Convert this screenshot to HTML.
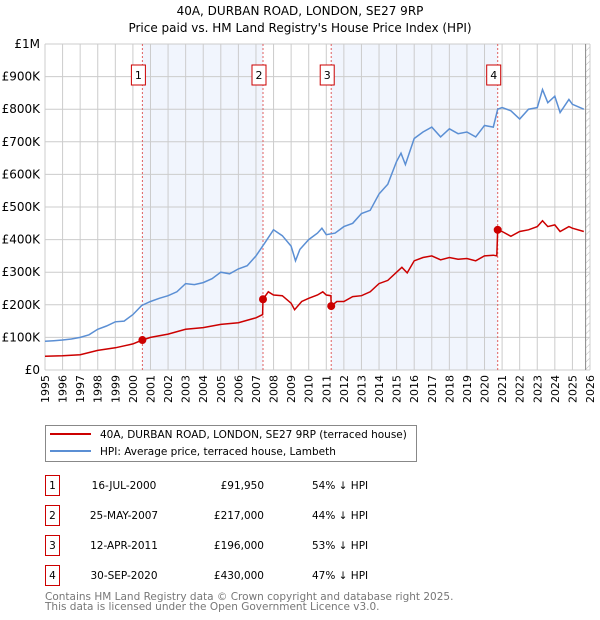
<!DOCTYPE html>
<html><head><meta charset="utf-8"><style>
body{margin:0;background:#fff;}
svg{display:block;font-family:"DejaVu Sans","Liberation Sans",sans-serif;}
</style></head><body>
<svg id="c" width="600" height="620"></svg>
<script>
const hpiYears=[1995,1995.5,1996,1996.5,1997,1997.5,1998,1998.5,1999,1999.5,2000,2000.5,2001,2001.5,2002,2002.5,2003,2003.5,2004,2004.5,2005,2005.5,2006,2006.5,2007,2007.5,2008,2008.5,2009,2009.25,2009.5,2010,2010.5,2010.75,2011,2011.5,2012,2012.5,2013,2013.5,2014,2014.5,2015,2015.25,2015.5,2016,2016.5,2017,2017.5,2018,2018.5,2019,2019.5,2020,2020.5,2020.75,2021,2021.5,2022,2022.5,2023,2023.3,2023.6,2024,2024.3,2024.8,2025,2025.65];
const hpiValues=[88,90,92,95,100,108,125,135,148,150,170,198,210,220,228,240,265,262,268,280,300,295,310,320,350,390,430,412,380,335,370,400,420,435,415,420,440,450,480,490,540,570,640,665,630,710,730,745,715,740,725,730,715,750,745,800,805,795,770,800,805,860,820,840,790,830,815,800];
const priceYears=[1995,1996,1997,1998,1999,2000,2000.54,2001,2002,2003,2004,2005,2006,2007,2007.38,2007.4,2007.7,2008,2008.5,2009,2009.2,2009.6,2010,2010.5,2010.8,2011,2011.26,2011.28,2011.6,2012,2012.5,2013,2013.5,2014,2014.5,2015,2015.3,2015.6,2016,2016.5,2017,2017.5,2018,2018.5,2019,2019.5,2020,2020.5,2020.7,2020.75,2021,2021.5,2022,2022.5,2023,2023.3,2023.6,2024,2024.3,2024.8,2025,2025.65];
const priceValues=[42,44,47,60,68,80,91.95,100,110,125,130,140,145,160,170,217,240,230,228,205,185,210,220,230,240,230,228,196,210,210,225,228,240,265,275,300,315,298,335,345,350,338,345,340,342,335,350,352,350,430,425,410,425,430,440,458,440,445,425,440,435,425];
const saleLabels=["1","2","3","4"];
const saleYears=[2000.54,2007.4,2011.28,2020.75];
const saleValues=[91.95,217,196,430];
const yTicks=[0,100,200,300,400,500,600,700,800,900,1000];
const yTickLabels=["£0","£100K","£200K","£300K","£400K","£500K","£600K","£700K","£800K","£900K","£1M"];
const xTicks=[1995,1996,1997,1998,1999,2000,2001,2002,2003,2004,2005,2006,2007,2008,2009,2010,2011,2012,2013,2014,2015,2016,2017,2018,2019,2020,2021,2022,2023,2024,2025,2026];

const svg=document.getElementById('c'),NS='http://www.w3.org/2000/svg';
const L=45,R=590,T=44,B=370;
const X=y=>L+(y-1995)/(2026-1995)*(R-L);
const Y=v=>B-v/1000*(B-T);
function mk(tag,attrs,parent){const e=document.createElementNS(NS,tag);for(const k in attrs)e.setAttribute(k,attrs[k]);(parent||svg).appendChild(e);return e;}
function txt(s,attrs){const e=mk('text',attrs);e.textContent=s;return e;}

let t=txt('40A, DURBAN ROAD, LONDON, SE27 9RP',{x:300,y:15,'text-anchor':'middle','font-size':12});


t=txt("Price paid vs. HM Land Registry's House Price Index (HPI)",{x:300,y:32,'text-anchor':'middle','font-size':12});



[[0,1],[2,3]].forEach((p,i)=>{const r=mk('rect',{x:X(saleYears[p[0]]),y:T,width:X(saleYears[p[1]])-X(saleYears[p[0]]),height:B-T,fill:'#eef3fc',opacity:0.8});

});
const defs=mk('defs',{});
const pat=mk('pattern',{id:'h',width:5,height:5,patternUnits:'userSpaceOnUse',patternTransform:'rotate(45)'},defs);
mk('line',{x1:0,y1:0,x2:0,y2:5,stroke:'#bbb','stroke-width':1},pat);
const hr=mk('rect',{x:X(2025.75),y:T,width:R-X(2025.75),height:B-T,fill:'url(#h)'});



yTicks.forEach((v,i)=>{const l=mk('line',{x1:L,x2:R,y1:Y(v),y2:Y(v),stroke:'#ccc','stroke-width':1});


const tt=txt(yTickLabels[i],{x:L-5,y:Y(v)+4,'text-anchor':'end','font-size':12});

});
xTicks.forEach(y=>{const l=mk('line',{x1:X(y),x2:X(y),y1:T,y2:B,stroke:'#ccc','stroke-width':1});


const tt=txt(String(y),{x:0,y:0,'text-anchor':'end','font-size':11,transform:`translate(${X(y)+4},${B+5}) rotate(-90)`});

});
const ax=mk('line',{x1:X(2025.75),x2:X(2025.75),y1:T,y2:B,stroke:'#888','stroke-width':1});



saleYears.forEach(y=>{const l=mk('line',{x1:X(y),x2:X(y),y1:T,y2:B,stroke:'#e06060','stroke-width':1,'stroke-dasharray':'2,2'});

});

function path(xs,vs,color,name){const d=xs.map((x,i)=>(i?'L':'M')+X(x).toFixed(1)+','+Y(vs[i]).toFixed(1)).join('');
const p=mk('path',{d:d,fill:'none',stroke:color,'stroke-width':1.5});

}
path(hpiYears,hpiValues,'#5b8fd4','hpi-line');
path(priceYears,priceValues,'#cc0000','price-paid-line');

saleYears.forEach((y,i)=>{const c=mk('circle',{cx:X(y),cy:Y(saleValues[i]),r:4,fill:'#cc0000'});


const g=mk('rect',{x:X(y)-11,y:65,width:14,height:20,fill:'#fff',stroke:'#cc0000','stroke-width':1});


const tt=txt(saleLabels[i],{x:X(y)-4,y:79,'text-anchor':'middle','font-size':11});

});

const lg=mk('rect',{x:45.5,y:425.5,width:371,height:36,fill:'#fff',stroke:'#888'});


let ll=mk('line',{x1:50,x2:91,y1:434,y2:434,stroke:'#cc0000','stroke-width':2});


t=txt('40A, DURBAN ROAD, LONDON, SE27 9RP (terraced house)',{x:100,y:438,'font-size':10.5});


ll=mk('line',{x1:50,x2:91,y1:451,y2:451,stroke:'#5b8fd4','stroke-width':2});


t=txt('HPI: Average price, terraced house, Lambeth',{x:100,y:455,'font-size':10.5});



const dates=['16-JUL-2000','25-MAY-2007','12-APR-2011','30-SEP-2020'];
const prices=['£91,950','£217,000','£196,000','£430,000'];
const pcts=['54% ↓ HPI','44% ↓ HPI','53% ↓ HPI','47% ↓ HPI'];
dates.forEach((d,i)=>{const yy=475+i*30;
const b=mk('rect',{x:45.5,y:yy+0.5,width:14,height:20,fill:'#fff',stroke:'#cc0000'});


let s=txt(saleLabels[i],{x:52.5,y:yy+14,'text-anchor':'middle','font-size':10.5});


s=txt(d,{x:124,y:yy+14,'text-anchor':'middle','font-size':10.5});


s=txt(prices[i],{x:264,y:yy+14,'text-anchor':'end','font-size':10.5});


s=txt(pcts[i],{x:312,y:yy+14,'font-size':10.5});

});

t=txt('Contains HM Land Registry data © Crown copyright and database right 2025.',{x:45,y:600,'font-size':10.5,fill:'#777'});


t=txt('This data is licensed under the Open Government Licence v3.0.',{x:45,y:610,'font-size':10.5,fill:'#777'});


</script>
</body></html>
